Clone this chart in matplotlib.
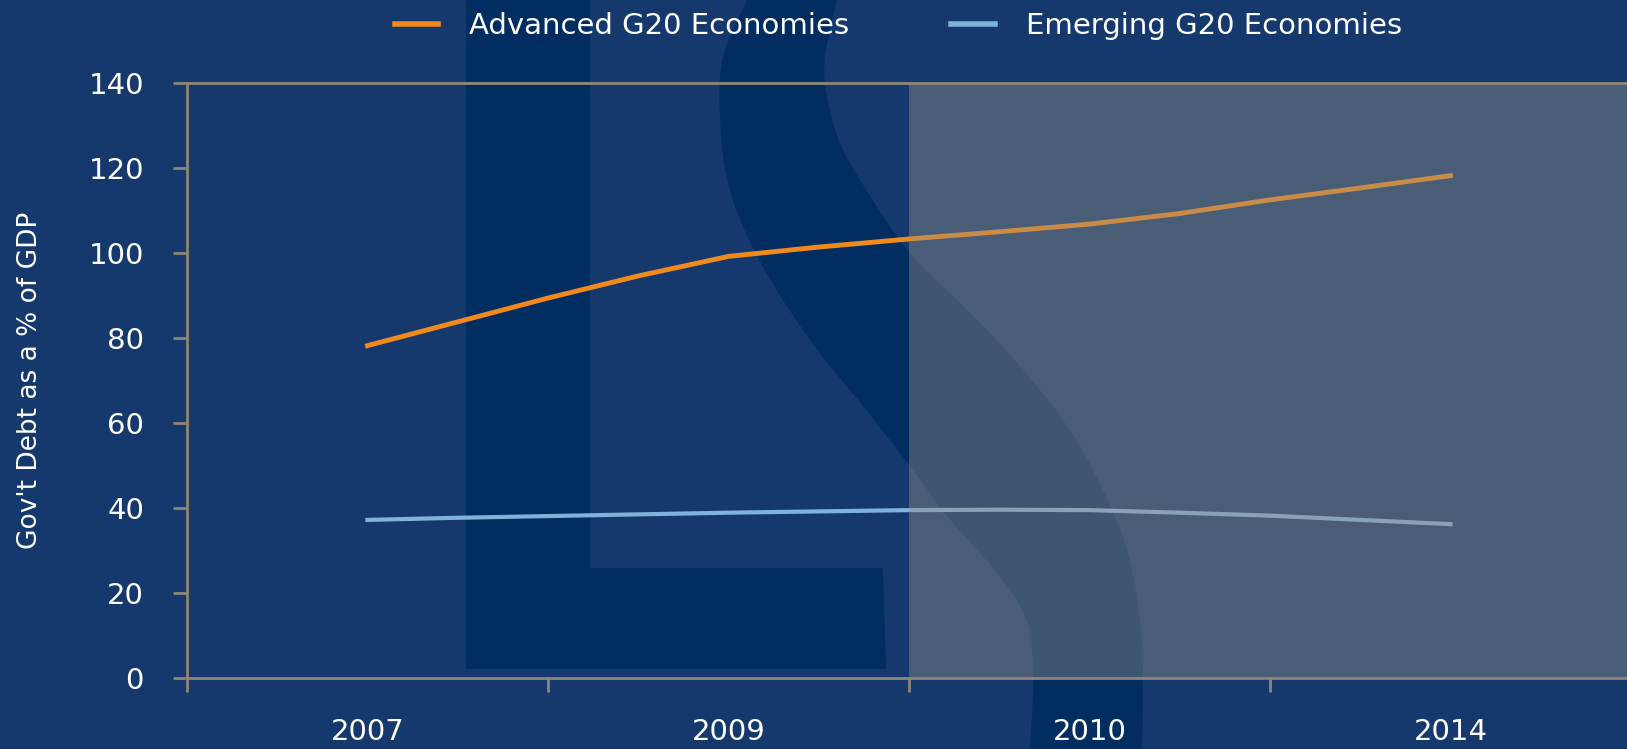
import numpy as np
import matplotlib.pyplot as plt
from matplotlib.patches import Polygon

# Data (x = position along the category axis, 0..3)
year_labels = ['2007', '2009', '2010', '2014']
pos = np.array([0, 0.25, 0.5, 0.75, 1, 1.25, 1.5, 1.75, 2, 2.25, 2.5, 2.75, 3])
advanced = np.array([78.2, 83.8, 89.4, 94.6, 99.2, 101.4, 103.3, 105.0, 106.8, 109.3, 112.5, 115.3, 118.2])
emerging = np.array([37.2, 37.7, 38.1, 38.5, 38.9, 39.2, 39.5, 39.6, 39.5, 38.9, 38.2, 37.2, 36.2])
forecast_start = 1.5  # shaded projection period

BG = '#16396d'
LOGO = '#012d61'
ORANGE = '#f08a1d'
LIGHTBLUE = '#7fb3d9'
AXCOL = '#8f8677'

W, H = 1627, 749
fig = plt.figure(figsize=(W / 100, H / 100), dpi=100, facecolor=BG)


def smooth(pts, n=12):
    # catmull-rom through the outline points
    p = np.array(pts, dtype=float)
    p = np.vstack([p[0], p, p[-1]])
    out = []
    for i in range(1, len(p) - 2):
        p0, p1, p2, p3 = p[i - 1], p[i], p[i + 1], p[i + 2]
        for t in np.linspace(0, 1, n, endpoint=False):
            out.append(0.5 * (2 * p1 + (-p0 + p2) * t + (2 * p0 - 5 * p1 + 4 * p2 - p3) * t ** 2
                              + (-p0 + 3 * p1 - 3 * p2 + p3) * t ** 3))
    out.append(p[-2])
    return [tuple(q) for q in out]


# background logo shapes, in pixel coords of the reference
def px_poly(pts, **kw):
    pts = [(x / W, 1 - y / H) for x, y in pts]
    fig.add_artist(Polygon(pts, closed=True, transform=fig.transFigure, zorder=0, **kw))


px_poly([(466, 0), (590, 0), (590, 568), (883, 568), (886, 669), (466, 669)],
        facecolor=LOGO, edgecolor='none')
s_left = [(747, 0), (723, 57), (720, 119), (730, 191), (763, 267), (813, 344), (863, 406),
          (910, 466), (947, 516), (997, 573), (1027, 621), (1033, 678), (1030, 749)]
s_right = [(837, 0), (825, 57), (827, 96), (840, 143), (867, 191), (910, 253), (963, 306),
           (1013, 358), (1063, 420), (1097, 478), (1127, 549), (1140, 621), (1143, 678), (1142, 749)]
px_poly(smooth(s_left) + smooth(s_right)[::-1], facecolor=LOGO, edgecolor='none')

ax = fig.add_axes([187 / W, 1 - 678 / H, 1444 / W, 595 / H])
ax.set_facecolor('none')

ax.plot(pos, advanced, color=ORANGE, lw=3.5, label='Advanced G20 Economies', zorder=3)
ax.plot(pos, emerging, color=LIGHTBLUE, lw=3, label='Emerging G20 Economies', zorder=3)

# projection shading drawn over the lines
ax.axvspan(forecast_start, 3.6, facecolor=(0.58, 0.56, 0.52), alpha=0.42, lw=0, zorder=4)

ax.set_xlim(-0.5, 3.5)
ax.set_ylim(0, 140)

ax.spines['right'].set_visible(False)
for s in ['left', 'bottom', 'top']:
    ax.spines[s].set_color(AXCOL)
    ax.spines[s].set_linewidth(2)
    ax.spines[s].set_zorder(5)

ax.set_yticks(np.arange(0, 141, 20))
ax.tick_params(axis='y', colors=AXCOL, length=10, width=2, pad=21,
               labelcolor='white', labelsize=21)
ax.set_xticks(range(len(year_labels)))
ax.set_xticklabels(year_labels)
ax.set_xticks([-0.5, 0.5, 1.5, 2.5], minor=True)
ax.tick_params(axis='x', which='major', length=0, pad=29, labelcolor='white', labelsize=21)
ax.tick_params(axis='x', which='minor', length=10, width=2, color=AXCOL)

ax.set_ylabel("Gov't Debt as a % of GDP", color='white', fontsize=19)
ax.yaxis.set_label_coords(-0.100, 0.5)

leg = fig.legend(loc='center', bbox_to_anchor=(0.552, 0.965), ncol=2, frameon=False,
                 fontsize=21, handlelength=1.5, handletextpad=1.05, columnspacing=3.5)
for t in leg.get_texts():
    t.set_color('white')
for h in leg.get_lines():
    h.set_linewidth(4)

fig.savefig('out.png', dpi=100, facecolor=BG)
